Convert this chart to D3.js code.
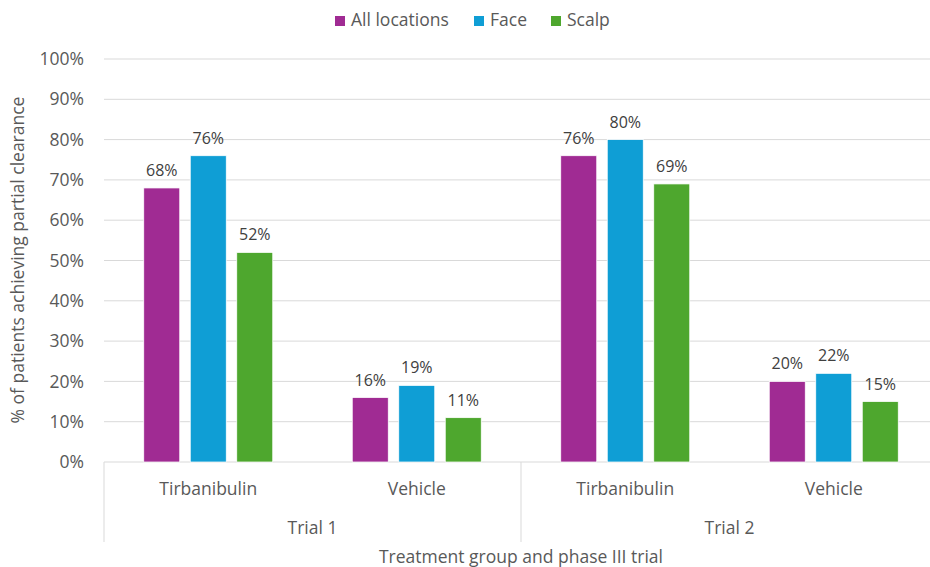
<!DOCTYPE html>
<html><head><meta charset="utf-8">
<script src="https://cdn.jsdelivr.net/npm/d3@7"></script>
<style>body{margin:0;background:#fff}svg{display:block;font-family:"Open Sans",sans-serif}</style>
</head><body><svg id="c" width="930" height="567"></svg>
<script>
const groups = ["Tirbanibulin","Vehicle","Tirbanibulin","Vehicle"];
const trials = ["Trial 1","Trial 2"];
const series = ["All locations","Face","Scalp"];
const colors = ["#A02B93","#0F9ED5","#4EA72E"];
const allLocations = [68,16,76,20];
const face = [76,19,80,22];
const scalp = [52,11,69,15];
const yTicks = [0,10,20,30,40,50,60,70,80,90,100];

const values = [allLocations, face, scalp];
const svg = d3.select("#c");
const L=104, R=938, T=59, B=462;
const x = d3.scaleBand().domain(d3.range(groups.length)).range([L,R]);
const y = d3.scaleLinear().domain([0,100]).range([B,T]);
const bw = 36, step = 46.5;

svg.append("g").selectAll("line").data(yTicks.slice(1)).join("line")
  .attr("x1",L).attr("x2",930).attr("y1",d=>y(d)).attr("y2",d=>y(d))
  .attr("stroke","#d9d9d9").attr("stroke-width",1);
svg.append("line").attr("x1",L).attr("x2",930).attr("y1",B).attr("y2",B).attr("stroke","#d9d9d9");

svg.append("g").selectAll("text").data(yTicks).join("text")
  .attr("x",84).attr("y",d=>y(d)).attr("dy","0.35em").attr("text-anchor","end")
  .attr("font-size",17.5).attr("fill","#595959").text(d=>d+"%");

series.forEach((s,si)=>{
  const g = svg.append("g");
  g.selectAll("rect").data(values[si]).join("rect")
    .attr("x",(d,i)=>x(i)+x.bandwidth()/2+(si-1)*step-bw/2)
    .attr("width",bw).attr("y",d=>y(d)).attr("height",d=>B-y(d))
    .attr("fill",colors[si]).attr("stroke","#fff").attr("stroke-width",0.75);
  g.selectAll("text").data(values[si]).join("text")
    .attr("x",(d,i)=>x(i)+x.bandwidth()/2+(si-1)*step)
    .attr("y",d=>y(d)-12).attr("text-anchor","middle")
    .attr("font-size",16).attr("fill","#404040").text(d=>d+"%");
});

// category labels
svg.append("g").selectAll("text").data(groups).join("text")
  .attr("x",(d,i)=>x(i)+x.bandwidth()/2).attr("y",495).attr("text-anchor","middle")
  .attr("font-size",17.5).attr("fill","#595959").text(d=>d);
svg.append("g").selectAll("text").data(trials).join("text")
  .attr("x",(d,i)=>x(i*2)+x.bandwidth()).attr("y",534).attr("text-anchor","middle")
  .attr("font-size",17.5).attr("fill","#595959").text(d=>d);
// separators
[0,2,4].forEach(i=>{
  const xx = i<groups.length ? x(i) : R;
  svg.append("line").attr("x1",xx).attr("x2",xx).attr("y1",B).attr("y2",542).attr("stroke","#d9d9d9");
});

svg.append("text").attr("x",521).attr("y",563).attr("text-anchor","middle")
  .attr("font-size",17.5).attr("fill","#595959").text("Treatment group and phase III trial");
svg.append("text").attr("transform","translate(24,260) rotate(-90)").attr("text-anchor","middle")
  .attr("font-size",17.5).attr("fill","#595959").text("% of patients achieving partial clearance");

// legend
const legX = [335,474,551];
series.forEach((s,i)=>{
  svg.append("rect").attr("x",legX[i]).attr("y",16).attr("width",10).attr("height",10).attr("fill",colors[i]);
  svg.append("text").attr("x",legX[i]+16).attr("y",26)
    .attr("font-size",17.5).attr("fill","#595959").text(s);
});
</script></body></html>
